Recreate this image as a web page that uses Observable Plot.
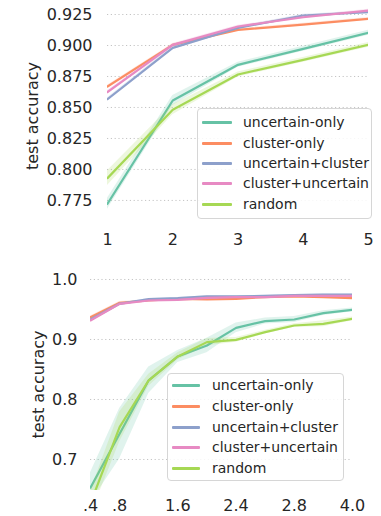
<!DOCTYPE html>
<html>
<head>
<meta charset="utf-8">
<script src="https://cdn.jsdelivr.net/npm/d3@7"></script>
<script src="https://cdn.jsdelivr.net/npm/@observablehq/plot@0.6"></script>
<style>
  html, body { margin: 0; padding: 0; background: #fff; }
  body { width: 381px; height: 516px; overflow: hidden; font-family: "DejaVu Sans", sans-serif; color: #262626; }
  #wrap { position: relative; width: 381px; height: 516px; }
  .fig { position: absolute; left: 0; }
  .legend { position: absolute; box-sizing: border-box; border: 1px solid #d6d6d6; border-radius: 4px; background: rgba(255,255,255,0.85); font-size: 14px; color: #262626; }
  .legend .row { position: absolute; left: 0; height: 20px; display: flex; align-items: center; white-space: nowrap; }
  .legend .sw { display: inline-block; height: 3px; border-radius: 1px; }
  .legend .lab { position: absolute; }
</style>
</head>
<body>
<div id="wrap"></div>
<script>
// ---------- data ----------
const seriesNames = ["uncertain-only", "cluster-only", "uncertain+cluster", "cluster+uncertain", "random"];
const seriesColors = ["#66c2a5", "#fc8d62", "#8da0cb", "#e78ac3", "#a6d854"];

// top chart
const topX = [1, 2, 3, 4, 5];
const topUncertainOnly     = [0.7723, 0.8556, 0.8844, 0.8973, 0.9102];
const topClusterOnly       = [0.8669, 0.9005, 0.9126, 0.9169, 0.9215];
const topUncertainCluster  = [0.8567, 0.8981, 0.9142, 0.9242, 0.9269];
const topClusterUncertain  = [0.8624, 0.9005, 0.9153, 0.9228, 0.9282];
const topRandom            = [0.7930, 0.8481, 0.8766, 0.8884, 0.9005];
const topCIUncertainOnly    = [0.0045, 0.0040, 0.0020, 0.0020, 0.0020];
const topCIClusterOnly      = [0.0010, 0.0010, 0.0010, 0.0010, 0.0010];
const topCIUncertainCluster = [0.0012, 0.0015, 0.0010, 0.0010, 0.0010];
const topCIClusterUncertain = [0.0012, 0.0012, 0.0010, 0.0010, 0.0010];
const topCIRandom           = [0.0060, 0.0040, 0.0020, 0.0020, 0.0020];
const topYTicks = [0.775, 0.800, 0.825, 0.850, 0.875, 0.900, 0.925];
const topXTicks = [1, 2, 3, 4, 5];

// bottom chart
const botX = [0, 1, 2, 3, 4, 5, 6, 7, 8, 9];
const botUncertainOnly     = [0.653, 0.743, 0.832, 0.8717, 0.890, 0.9194, 0.9306, 0.9333, 0.9439, 0.9494];
const botClusterOnly       = [0.9372, 0.9611, 0.9650, 0.9678, 0.9667, 0.9678, 0.9706, 0.9717, 0.9706, 0.9689];
const botUncertainCluster  = [0.9333, 0.9594, 0.9672, 0.9689, 0.9717, 0.9717, 0.9728, 0.9739, 0.9750, 0.9750];
const botClusterUncertain  = [0.9317, 0.9594, 0.9650, 0.9661, 0.9694, 0.9706, 0.9706, 0.9728, 0.9728, 0.9728];
const botRandom            = [0.627, 0.754, 0.832, 0.8717, 0.8956, 0.8994, 0.9122, 0.9233, 0.9261, 0.9344];
const botCIUncertainOnly    = [0.025, 0.042, 0.022, 0.010, 0.012, 0.008, 0.005, 0.005, 0.004, 0.003];
const botCIClusterOnly      = [0.002, 0.002, 0.001, 0.001, 0.001, 0.001, 0.001, 0.001, 0.001, 0.001];
const botCIUncertainCluster = [0.002, 0.002, 0.001, 0.001, 0.001, 0.001, 0.001, 0.001, 0.001, 0.001];
const botCIClusterUncertain = [0.002, 0.002, 0.001, 0.001, 0.001, 0.001, 0.001, 0.001, 0.001, 0.001];
const botCIRandom           = [0.020, 0.025, 0.010, 0.006, 0.006, 0.004, 0.003, 0.003, 0.005, 0.003];
const botYTicks = [0.7, 0.8, 0.9, 1.0];
const botXTickPos = [0, 1, 3, 5, 7, 9];
const botXTickLabels = [".4", ".8", "1.6", "2.4", "2.8", "4.0"];

// ---------- build tidy tables ----------
function tidy(xs, vals, cis) {
  const rows = [];
  vals.forEach((arr, s) => {
    arr.forEach((v, i) => rows.push({x: xs[i], y: v, lo: v - cis[s][i], hi: v + cis[s][i], series: seriesNames[s]}));
  });
  return rows;
}
const topData = tidy(topX,
  [topUncertainOnly, topClusterOnly, topUncertainCluster, topClusterUncertain, topRandom],
  [topCIUncertainOnly, topCIClusterOnly, topCIUncertainCluster, topCIClusterUncertain, topCIRandom]);
const botData = tidy(botX,
  [botUncertainOnly, botClusterOnly, botUncertainCluster, botClusterUncertain, botRandom],
  [botCIUncertainOnly, botCIClusterOnly, botCIUncertainCluster, botCIClusterUncertain, botCIRandom]);

const colorScale = {domain: seriesNames, range: seriesColors};
const gridStyle = {stroke: "#c4c4c4", strokeOpacity: 1, strokeWidth: 1, strokeDasharray: "1.2,2.6"};

function seriesMarks(data) {
  const marks = [];
  seriesNames.forEach(name => {
    const d = data.filter(r => r.series === name);
    marks.push(Plot.areaY(d, {x: "x", y1: "lo", y2: "hi", fill: "series", fillOpacity: 0.2, clip: true}));
    marks.push(Plot.lineY(d, {x: "x", y: "y", stroke: "series", strokeWidth: 2.2, clip: true}));
  });
  return marks;
}

const wrap = document.getElementById("wrap");

// ---------- top chart ----------
const topPlot = Plot.plot({
  width: 381, height: 250,
  marginTop: 0, marginBottom: 29, marginLeft: 107, marginRight: 13,
  style: {fontFamily: "DejaVu Sans", fontSize: "16px", color: "#262626", background: "transparent", overflow: "visible"},
  x: {domain: [1, 5]},
  y: {domain: [0.758, 0.9363]},
  color: colorScale,
  marks: [
    Plot.gridY(topYTicks, gridStyle),
    ...seriesMarks(topData),
    Plot.axisY(topYTicks, {tickSize: 0, tickPadding: 15, tickFormat: d3.format(".3f"), label: null}),
    Plot.axisX(topXTicks, {tickSize: 0, tickPadding: 12, tickFormat: d => String(d), label: null})
  ]
});
topPlot.classList.add("fig");
topPlot.style.top = "0px";
wrap.appendChild(topPlot);

// ---------- bottom chart ----------
const botPlot = Plot.plot({
  width: 381, height: 266,
  marginTop: 12, marginBottom: 26, marginLeft: 90, marginRight: 29,
  style: {fontFamily: "DejaVu Sans", fontSize: "16px", color: "#262626", background: "transparent", overflow: "visible"},
  x: {domain: [0, 9]},
  y: {domain: [0.6483, 1.0283]},
  color: colorScale,
  marks: [
    Plot.gridY(botYTicks, gridStyle),
    ...seriesMarks(botData),
    Plot.axisY(botYTicks, {tickSize: 0, tickPadding: 13, tickFormat: d3.format(".1f"), label: null}),
    Plot.axisX(botXTickPos, {tickSize: 0, tickPadding: 9, tickFormat: (d, i) => botXTickLabels[i], label: null})
  ]
});
botPlot.classList.add("fig");
botPlot.style.top = "250px";
wrap.appendChild(botPlot);

// ---------- y axis titles ----------
function yTitle(svg, cx, cy) {
  d3.select(svg).append("text")
    .attr("transform", `translate(${cx},${cy}) rotate(-90)`)
    .attr("text-anchor", "middle")
    .attr("dominant-baseline", "central")
    .attr("fill", "#262626")
    .style("font-family", "DejaVu Sans")
    .style("font-size", "16px")
    .text("test accuracy");
}
yTitle(topPlot, 32, 116);
yTitle(botPlot, 38.5, 134.5);

// ---------- legends ----------
function legend(left, top, w, h, lineX0, lineX1, textX, rowYs) {
  const box = document.createElement("div");
  box.className = "legend";
  Object.assign(box.style, {left: left + "px", top: top + "px", width: w + "px", height: h + "px"});
  seriesNames.forEach((name, i) => {
    const row = document.createElement("div");
    row.className = "row";
    row.style.top = (rowYs[i] - top - 10 - 1) + "px";
    const sw = document.createElement("span");
    sw.className = "sw";
    Object.assign(sw.style, {position: "absolute", left: (lineX0 - left - 1) + "px", width: (lineX1 - lineX0) + "px", background: seriesColors[i]});
    const lab = document.createElement("span");
    lab.className = "lab";
    lab.style.left = (textX - left - 1) + "px";
    lab.textContent = name;
    row.appendChild(sw); row.appendChild(lab);
    box.appendChild(row);
  });
  wrap.appendChild(box);
}
legend(197, 108, 175, 111, 202, 232, 243, [122, 143, 163, 183, 204]);
legend(167, 373, 177, 108, 172, 200, 212, [385, 406, 427, 447, 468]);
</script>
</body>
</html>
